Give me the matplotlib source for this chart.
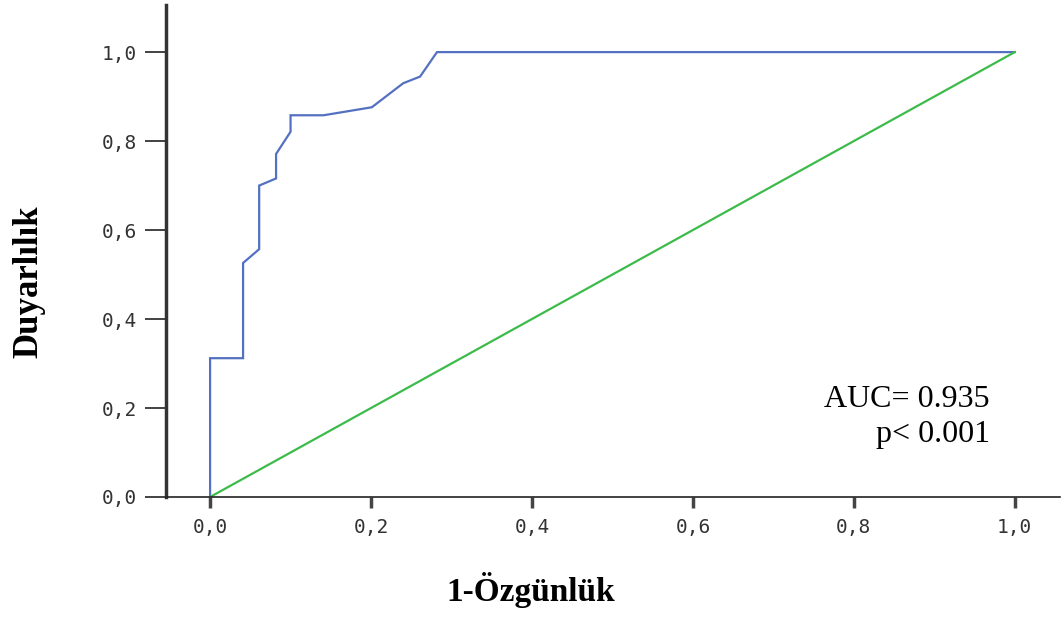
import matplotlib
matplotlib.use("Agg")
import matplotlib.pyplot as plt

# ROC curve points
fpr = [0.0, 0.0, 0.041, 0.041, 0.061, 0.061, 0.082, 0.082, 0.100, 0.100,
       0.141, 0.201, 0.240, 0.261, 0.282, 1.0]
tpr = [0.0, 0.312, 0.312, 0.526, 0.557, 0.700, 0.716, 0.771, 0.821, 0.858,
       0.858, 0.876, 0.930, 0.945, 1.0, 1.0]
ref_line = [0.0, 1.0]

ticks = [0.0, 0.2, 0.4, 0.6, 0.8, 1.0]
tick_labels = ["0,0", "0,2", "0,4", "0,6", "0,8", "1,0"]

auc_text = "AUC= 0.935\np< 0.001"

fig = plt.figure(figsize=(10.63, 6.17), dpi=100)
ax = fig.add_axes([0.156, 0.1945, 0.841, 0.7975])

ax.plot(fpr, tpr, color="#5470c0", lw=1.6, solid_joinstyle="miter")
ax.plot(ref_line, ref_line, color="#3dbb4a", lw=1.6)

ax.set_xlim(-0.055, 1.056)
ax.set_ylim(0, 1.106)

ax.spines["top"].set_visible(False)
ax.spines["right"].set_visible(False)
ax.spines["left"].set_linewidth(2.5)
ax.spines["left"].set_color("#333333")
ax.spines["bottom"].set_linewidth(1.2)
ax.spines["bottom"].set_color("#222222")

ax.set_xticks(ticks)
ax.set_xticklabels(tick_labels)
ax.set_yticks(ticks)
ax.set_yticklabels(tick_labels)
ax.tick_params(axis="y", direction="out", length=15, width=1.2, color="#222222", pad=6)
ax.tick_params(axis="x", direction="out", length=8, width=2.5, color="#444444", pad=7)
for lab in ax.get_xticklabels() + ax.get_yticklabels():
    lab.set_family("DejaVu Sans Mono")
    lab.set_fontsize(14)
    lab.set_color("#333333")

ax.text(0.969, 0.252, auc_text, ha="right", va="top", fontsize=23,
        family="Liberation Serif", linespacing=1.3)

fig.text(0.499, 0.043, "1-Özgünlük", ha="center", va="center", fontsize=24,
         family="Liberation Serif", weight="bold")
fig.text(0.027, 0.543, "Duyarlılık", ha="center", va="center", fontsize=25,
         family="Liberation Serif", weight="bold", rotation=90)

fig.savefig("out.png", dpi=100)
